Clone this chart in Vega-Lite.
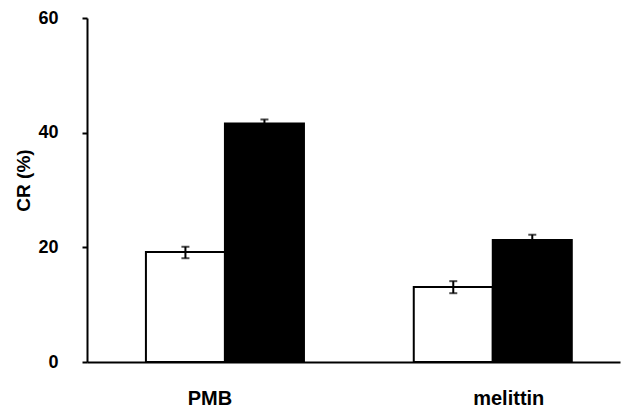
{
  "$schema": "https://vega.github.io/schema/vega-lite/v6.json",
  "autosize": {"type": "none"},
  "padding": {"left": 87, "top": 18, "right": 12, "bottom": 45},
  "width": 533,
  "height": 344,
  "background": "white",
  "config": {
    "view": {"stroke": null},
    "axis": {"grid": false, "domainColor": "black", "domainWidth": 2, "tickColor": "black", "tickWidth": 2,
             "labelFont": "Liberation Sans", "labelFontWeight": "bold", "labelColor": "black",
             "titleFont": "Liberation Sans", "titleFontWeight": "bold", "titleColor": "black"}
  },
  "data": {"values": [
    {"group": "PMB", "cond": "a", "value": 19.2, "lo": 18.1, "hi": 20.1},
    {"group": "PMB", "cond": "b", "value": 41.6, "lo": 40.9, "hi": 42.3},
    {"group": "melittin", "cond": "a", "value": 13.1, "lo": 12.0, "hi": 14.1},
    {"group": "melittin", "cond": "b", "value": 21.3, "lo": 20.4, "hi": 22.2}
  ]},
  "encoding": {
    "x": {"field": "group", "type": "nominal", "sort": ["PMB", "melittin"],
          "scale": {"paddingInner": 0.41, "paddingOuter": 0.2, "align": 0.55},
          "axis": {"title": null, "ticks": false, "labelAngle": 0, "labelFontSize": 20, "labelPadding": 26,
                   "labelOffset": {"condition": {"test": "datum.value == 'PMB'", "value": -15}, "value": 16}}},
    "xOffset": {"field": "cond", "type": "nominal", "sort": ["a", "b"], "scale": {"paddingInner": 0, "paddingOuter": 0}}
  },
  "layer": [
    {
      "mark": {"type": "bar", "stroke": "black", "strokeWidth": 2},
      "encoding": {
        "y": {"field": "value", "type": "quantitative",
              "scale": {"domain": [0, 60], "nice": false},
              "axis": {"title": "CR (%)", "values": [0, 20, 40, 60], "tickSize": 5, "labelFontSize": 18,
                       "labelPadding": 24, "titleFontSize": 19, "titlePadding": 4, "titleY": 162}},
        "fill": {"field": "cond", "type": "nominal", "scale": {"domain": ["a", "b"], "range": ["white", "black"]}, "legend": null}
      }
    },
    {
      "mark": {"type": "rule", "color": "black", "strokeWidth": 2},
      "encoding": {"y": {"field": "lo", "type": "quantitative"}, "y2": {"field": "hi"}}
    },
    {
      "mark": {"type": "tick", "color": "black", "size": 8, "thickness": 2},
      "encoding": {"y": {"field": "lo", "type": "quantitative"}}
    },
    {
      "mark": {"type": "tick", "color": "black", "size": 8, "thickness": 2},
      "encoding": {"y": {"field": "hi", "type": "quantitative"}}
    }
  ]
}
